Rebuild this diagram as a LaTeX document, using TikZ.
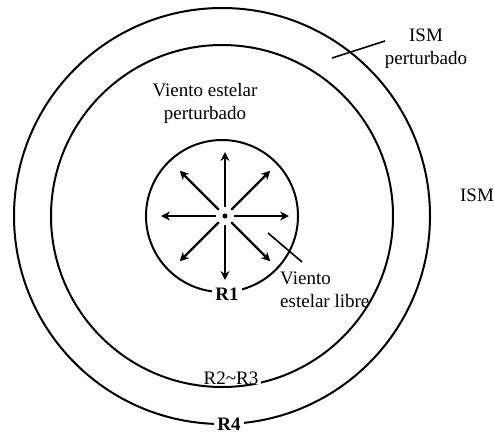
\documentclass[tikz,border=0pt]{standalone}
\usepackage{fontspec}
\setmainfont{Liberation Serif}
\usetikzlibrary{arrows.meta}

\tikzset{
    shell/.style={line width=2},
    wind/.style={line width=2.2, -{Stealth[length=9, width=9]}, shorten <=6},
    lbl/.style={inner sep=1, align=center},
    radius lbl/.style={fill=white, inner xsep=3, inner ysep=0},
    leader/.style={line width=1.6}
}

\begin{document}
\begin{tikzpicture}[x=1pt, y=-1pt, font=\fontsize{19}{23}\selectfont]

    \useasboundingbox (0,0) rectangle (494,434);

    % shells
    \draw[shell] (222,216) circle (208);
    \draw[shell] (222,216) circle (171);
    \draw[shell] (222,216) circle (76);

    % star and free wind
    \node[circle, fill, inner sep=1.8] (star) at (225,216) {};
    \foreach \ang in {0,45,...,315}
        \draw[wind] (star) -- ++(\ang:64);

    % radii
    \node[radius lbl, font=\fontsize{19}{23}\selectfont\bfseries] (rone) at (227,294) {R1};
    \node[radius lbl] (rtwothree) at (231,378) {R2\textasciitilde R3};
    \node[radius lbl, font=\fontsize{19}{23}\selectfont\bfseries] (rfour) at (229,424) {R4};

    % region labels
    \node[lbl] (ismp) at (426,49) {ISM\\perturbado};
    \node[lbl] (vep) at (205,103) {Viento estelar\\perturbado};
    \node[lbl] (ism) at (477,195) {ISM};
    \node[lbl, align=left, anchor=west] (vel) at (279,290) {Viento\\estelar libre};

    % leaders
    \coordinate (ismpa) at (332,58);
    \coordinate (ismpb) at (385,41);
    \draw[leader] (ismpa) -- (ismpb);
    \coordinate (vela) at (268,233);
    \coordinate (velb) at (302,262);
    \draw[leader] (vela) -- (velb);

\end{tikzpicture}
\end{document}
